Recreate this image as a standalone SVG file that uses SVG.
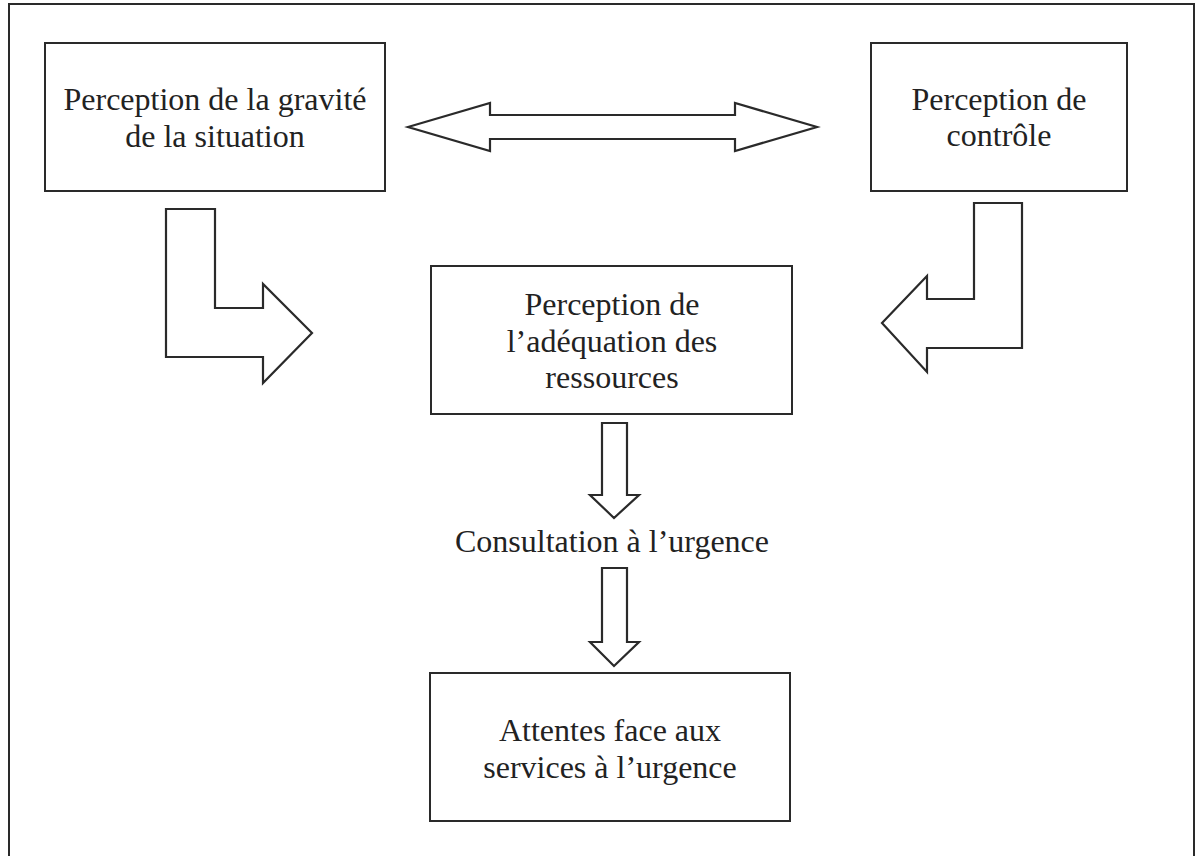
<svg xmlns="http://www.w3.org/2000/svg" width="1196" height="856" viewBox="0 0 1196 856">
<style>
.box{fill:#fff;stroke:#2a2a2a;stroke-width:2}
.arr{fill:#fff;stroke:#2a2a2a;stroke-width:2.2;stroke-linejoin:miter}
.t{font-family:"Liberation Serif","Times New Roman",serif;font-size:32px;fill:#222;text-anchor:middle}
</style>
<rect width="1196" height="856" fill="#fff"/>
<path d="M9,860 V4 H1194 V860" fill="none" stroke="#2a2a2a" stroke-width="2"/>
<g id="node-gravite">
<rect class="box" x="45" y="43" width="340" height="148"/>
<text class="t" x="215" y="110">Perception de la gravité</text>
<text class="t" x="215" y="147">de la situation</text>
</g>
<g id="node-controle">
<rect class="box" x="871" y="43" width="256" height="148"/>
<text class="t" x="999" y="110">Perception de</text>
<text class="t" x="999" y="146">contrôle</text>
</g>
<g id="node-adequation">
<rect class="box" x="431" y="266" width="361" height="148"/>
<text class="t" x="612" y="315">Perception de</text>
<text class="t" x="612" y="352">l’adéquation des</text>
<text class="t" x="612" y="388">ressources</text>
</g>
<g id="node-consultation">
<text class="t" x="612" y="552">Consultation à l’urgence</text>
</g>
<g id="node-attentes">
<rect class="box" x="430" y="673" width="360" height="148"/>
<text class="t" x="610" y="741">Attentes face aux</text>
<text class="t" x="610" y="778">services à l’urgence</text>
</g>
<g id="connectors">
<path class="arr" d="M408,127 L490,103 L490,115 L735,115 L735,103 L817,127 L735,151 L735,139 L490,139 L490,151 Z"/>
<path class="arr" d="M166,209 L215,209 L215,308 L263,308 L263,284 L312,333 L263,383 L263,357 L166,357 Z"/>
<path class="arr" d="M974,203 L1022,203 L1022,348 L927,348 L927,372 L882,323 L927,276 L927,299 L974,299 Z"/>
<path class="arr" d="M602,423 L627,423 L627,495 L639,495 L614,518 L590,495 L602,495 Z"/>
<path class="arr" d="M602,568 L627,568 L627,642 L639,642 L614,666 L590,642 L602,642 Z"/>
</g>
</svg>
